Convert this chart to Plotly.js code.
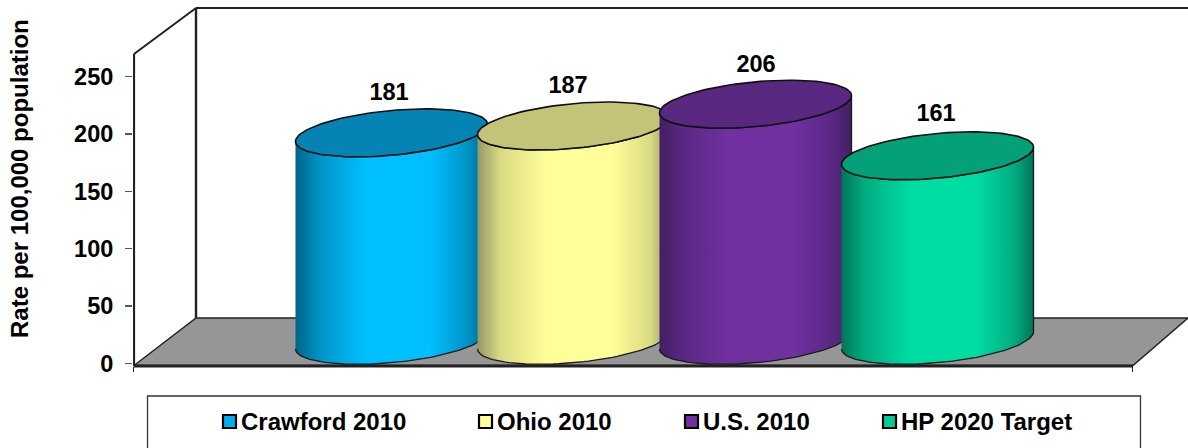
<!DOCTYPE html>
<html><head><meta charset="utf-8">
<script src="https://cdn.plot.ly/plotly-3.0.1.min.js"></script>
<style>html,body{margin:0;padding:0;background:#fff;overflow:hidden}#c{width:1188px;height:448px}</style>
</head><body><div id="c"></div>
<script>
const categories = ['Crawford 2010','Ohio 2010','U.S. 2010','HP 2020 Target'];
const values = [181,187,206,161];
const tickValues = [0,50,100,150,200,250];
const axisTitle = 'Rate per 100,000 population';
const brightColors = ['#00BFFF','#FFFF99','#7030A0','#00DDA3'];
const midColors = ['#0092C4','#DADA84','#5A2784','#00AC80'];
const edgeColors = ['#006488','#96966A','#42205F','#00755A'];
const capColors = ['#0584B4','#C4C478','#58277F','#04A078'];
const legendColors = ['#00AEEF','#FFFF99','#7030A0','#00CC99'];

const W=1188,H=448,font='"Liberation Sans", Arial, sans-serif';
const x0=133, zeroPx=363.3, pxPerUnit=1.146;
const v=p=>(zeroPx-p)/pxPerUnit;
const depthShift=(zeroPx-340.3)/pxPerUnit;
const A=96,B=22.4,skew=8.6,firstCx=391.5,step=182;
const labelNudge=[-2.5,-5.5,0.5,-1.5];
const labelLift=[38.5,38.5,38.5,41];
const lx=p=>p/W, ly=p=>1-p/H;

function ell(cx,base,t0,t1,n){
  const xs=[],ys=[];
  for(let i=0;i<=n;i++){const t=t0+(t1-t0)*i/n;
    xs.push(cx+A*Math.cos(t));
    ys.push(base-(B*Math.sin(t)-skew*Math.cos(t))/pxPerUnit);}
  return [xs,ys];
}
const traces=[];
values.forEach((val,i)=>{
  const cx=firstCx+step*i, top=val+depthShift, bot=depthShift;
  const [bx,by]=ell(cx,bot,Math.PI,0,60);
  const [tx,ty]=ell(cx,top,0,Math.PI,60);
  traces.push({type:'scatter',mode:'lines',x:bx.concat(tx),y:by.concat(ty),fill:'toself',
    fillgradient:{type:'horizontal',colorscale:[[0,edgeColors[i]],[0.12,midColors[i]],[0.36,brightColors[i]],[0.7,brightColors[i]],[0.9,midColors[i]],[1,edgeColors[i]]]},
    line:{color:'#1a1a1a',width:1.3},name:categories[i],showlegend:false,hoverinfo:'skip'});
  const [cxs,cys]=ell(cx,top,0,2*Math.PI,120);
  traces.push({type:'scatter',mode:'lines',x:cxs,y:cys,fill:'toself',fillcolor:capColors[i],
    line:{color:'#111',width:1.6},showlegend:false,hoverinfo:'skip'});
});
traces.push({type:'scatter',mode:'text',
  x:values.map((_,i)=>firstCx+step*i+labelNudge[i]),
  y:values.map((val,i)=>val+depthShift+labelLift[i]/pxPerUnit),
  text:values.map(String),textposition:'middle center',
  textfont:{family:font,size:23.5,color:'#000',weight:700},showlegend:false,hoverinfo:'skip'});

const frame=(x1,y1,x2,y2,w)=>({type:'line',xref:'x',yref:'y',x0:x1,y0:v(y1),x1:x2,y1:v(y2),layer:'below',line:{color:'#222',width:w}});
const shapes=[
  {type:'path',xref:'x',yref:'y',layer:'below',fillcolor:'#969696',line:{color:'#222',width:1.5},
   path:`M134,${v(365.5)} L196,${v(318)} L1188,${v(318)} L1133,${v(365.5)} Z`},
  frame(134,365,134,54,2.2),frame(134,54,196,8,2),frame(196,8,196,318,2.4),frame(196,8,1188,8,2),
  frame(134,366,1133,366,3),
  {type:'rect',xref:'paper',yref:'paper',x0:lx(147.5),x1:lx(1140.5),y0:ly(396),y1:ly(460),line:{color:'#333',width:1.3},fillcolor:'#fff'}
];
const annotations=[{xref:'paper',yref:'paper',x:lx(19),y:ly(179),text:axisTitle,textangle:-90,showarrow:false,
  xanchor:'center',yanchor:'middle',font:{family:font,size:24,color:'#000',weight:700}}];
const swatchX=[223,479,685,883];
categories.forEach((c,i)=>{
  shapes.push({type:'rect',xref:'paper',yref:'paper',x0:lx(swatchX[i]),x1:lx(swatchX[i]+13),y0:ly(415),y1:ly(428),
    fillcolor:legendColors[i],line:{color:'#000',width:2.2}});
  annotations.push({xref:'paper',yref:'paper',x:lx(swatchX[i]+17.5),y:ly(421.5),text:c,showarrow:false,
    xanchor:'left',yanchor:'middle',font:{family:font,size:24,color:'#000',weight:700},borderpad:0,borderwidth:0});
});
const layout={width:W,height:H,margin:{l:0,r:0,t:0,b:0},paper_bgcolor:'#fff',plot_bgcolor:'rgba(0,0,0,0)',showlegend:false,
  xaxis:{domain:[x0/W,1],range:[x0,W],anchor:'free',position:1-366/H,showgrid:false,zeroline:false,showline:false,
    tickmode:'array',tickvals:[133.5,1132.5],ticktext:['',''],ticks:'outside',ticklen:5,tickcolor:'#222',tickwidth:1.3},
  yaxis:{domain:[0,1],range:[v(H),v(0)],showgrid:false,zeroline:false,showline:false,
    tickmode:'array',tickvals:tickValues,ticks:'outside',ticklen:7,tickcolor:'#555',tickwidth:1.3,ticklabelstandoff:7,
    tickfont:{family:font,size:23.5,color:'#000',weight:700}},
  shapes,annotations};
Plotly.newPlot('c',traces,layout,{displayModeBar:false,staticPlot:true});
</script></body></html>
